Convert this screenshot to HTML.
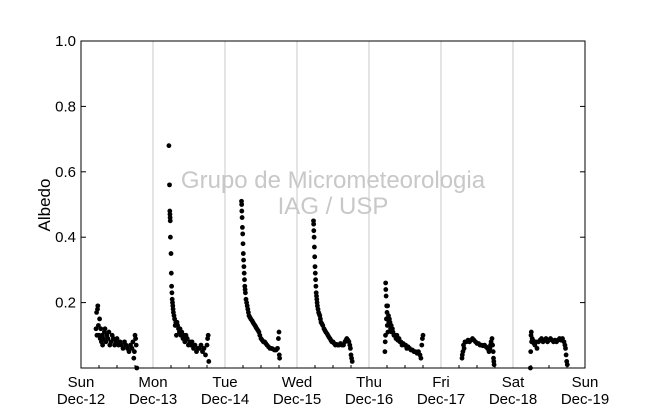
<!DOCTYPE html>
<html><head><meta charset="utf-8"><style>
body{margin:0;background:#fff}
text{font-family:"Liberation Sans","DejaVu Sans",sans-serif}
</style></head><body>
<svg width="650" height="409" xmlns="http://www.w3.org/2000/svg" id="c">
<rect width="650" height="409" fill="#fff"/>
<g id="grid"></g>
<text x="333" y="188" font-size="24" fill="#c8c8c8" text-anchor="middle">Grupo de Micrometeorologia</text>
<text x="333" y="214" font-size="24" fill="#c8c8c8" text-anchor="middle">IAG / USP</text>
<g id="pts"></g>
<rect x="81" y="41" width="504" height="327" fill="none" stroke="#000" stroke-width="1"/>
<g id="axes"></g>
<text transform="translate(50,205) rotate(-90)" font-size="17" text-anchor="middle">Albedo</text>
</svg>
<script>
const dayLabels=["Sun","Mon","Tue","Wed","Thu","Fri","Sat","Sun"];
const dateLabels=["Dec-12","Dec-13","Dec-14","Dec-15","Dec-16","Dec-17","Dec-18","Dec-19"];
const yTicks=[0.2,0.4,0.6,0.8,1.0];
const hours0=[5,5.2,5.3,5.5,5.6,5.8,6,6.2,6.4,6.6,6.8,7,7.2,7.5,7.8,8,8.3,8.6,9,9.3,9.6,10,10.4,10.8,11.2,11.6,12,12.5,13,13.5,14,14.5,15,15.5,16,16.5,17,17.3,17.6,17.8,18,18.2,18.4,18.6];
const vals0=[0.12,0.17,0.1,0.18,0.19,0.13,0.1,0.15,0.09,0.12,0.08,0.1,0.07,0.09,0.11,0.12,0.08,0.1,0.09,0.11,0.07,0.08,0.1,0.09,0.07,0.08,0.09,0.07,0.08,0.07,0.06,0.08,0.07,0.06,0.05,0.07,0.06,0.08,0.03,0.05,0.1,0.09,0.07,0.0];
const hours1=[5.3,5.5,5.6,5.65,5.7,5.75,5.8,6,6.1,6.2,6.3,6.4,6.5,6.6,6.7,6.8,7,7.2,7.4,7.6,7.8,8,8.2,8.5,8.8,9,9.3,9.6,10,10.3,10.6,11,11.4,11.8,12.2,12.6,13,13.5,14,14.5,15,15.5,16,16.5,17,17.5,18,18.2,18.4,18.6];
const vals1=[0.68,0.56,0.48,0.47,0.46,0.45,0.4,0.35,0.29,0.25,0.23,0.21,0.2,0.19,0.18,0.17,0.16,0.15,0.13,0.14,0.1,0.14,0.13,0.12,0.11,0.12,0.1,0.11,0.09,0.1,0.08,0.1,0.09,0.07,0.08,0.07,0.08,0.06,0.07,0.05,0.06,0.06,0.07,0.05,0.06,0.04,0.07,0.09,0.1,0.02];
const hours2=[5.5,5.55,5.6,5.7,5.8,5.9,6,6.1,6.2,6.3,6.4,6.5,6.6,6.7,6.8,7,7.2,7.4,7.6,7.8,8,8.3,8.6,9,9.3,9.6,10,10.3,10.6,11,11.3,11.6,12,12.4,12.8,13.2,13.6,14,14.5,15,15.5,16,16.5,17,17.5,17.8,18,18.1,18.2];
const vals2=[0.51,0.5,0.48,0.46,0.43,0.41,0.38,0.35,0.33,0.31,0.29,0.27,0.25,0.24,0.23,0.21,0.2,0.19,0.18,0.17,0.16,0.155,0.15,0.145,0.14,0.135,0.13,0.125,0.12,0.115,0.11,0.1,0.09,0.085,0.08,0.08,0.075,0.07,0.065,0.06,0.06,0.058,0.055,0.055,0.06,0.09,0.11,0.04,0.03];
const hours3=[5.5,5.55,5.6,5.7,5.8,5.9,6,6.1,6.2,6.3,6.4,6.5,6.6,6.7,6.8,7,7.2,7.4,7.6,7.8,8,8.3,8.6,9,9.3,9.6,10,10.3,10.6,11,11.3,11.6,12,12.4,12.8,13.2,13.6,14,14.5,15,15.5,16,16.3,16.6,17,17.3,17.6,17.8,18,18.2,18.4];
const vals3=[0.45,0.44,0.42,0.4,0.37,0.34,0.31,0.29,0.27,0.25,0.23,0.22,0.21,0.2,0.19,0.18,0.17,0.165,0.16,0.15,0.14,0.135,0.13,0.12,0.115,0.11,0.105,0.1,0.095,0.09,0.085,0.08,0.08,0.075,0.07,0.072,0.07,0.07,0.075,0.07,0.07,0.08,0.085,0.09,0.085,0.08,0.07,0.06,0.04,0.03,0.02];
const hours4=[5.3,5.4,5.5,5.55,5.6,5.7,5.8,5.9,6,6.1,6.2,6.3,6.5,6.6,6.8,7,7.2,7.4,7.6,7.8,8,8.3,8.6,9,9.3,9.6,10,10.3,10.6,11,11.4,11.8,12.2,12.6,13,13.5,14,14.5,15,15.5,16,16.5,17,17.3,17.6,17.8,18];
const vals4=[0.05,0.08,0.1,0.26,0.24,0.22,0.15,0.19,0.17,0.13,0.19,0.11,0.16,0.14,0.15,0.14,0.12,0.13,0.11,0.12,0.11,0.1,0.1,0.09,0.1,0.085,0.09,0.08,0.08,0.07,0.075,0.07,0.07,0.06,0.065,0.06,0.055,0.055,0.05,0.05,0.045,0.05,0.04,0.03,0.07,0.09,0.1];
const hours5=[7,7.1,7.3,7.5,7.7,8,8.5,9,9.5,10,10.5,11,11.5,12,12.5,13,13.5,14,14.5,15,15.5,16,16.3,16.5,16.7,17,17.2,17.4,17.5,17.6,17.7];
const vals5=[0.03,0.04,0.05,0.07,0.06,0.08,0.08,0.085,0.08,0.085,0.09,0.085,0.08,0.075,0.075,0.07,0.07,0.068,0.07,0.065,0.06,0.05,0.06,0.07,0.08,0.09,0.07,0.05,0.03,0.02,0.01];
const hours6=[5.8,5.9,6,6.1,6.2,6.4,6.6,6.8,7,7.3,7.6,8,8.5,9,9.5,10,10.5,11,11.5,12,12.5,13,13.5,14,14.5,15,15.5,16,16.5,17,17.3,17.5,17.7,17.9,18.1];
const vals6=[0.0,0.05,0.1,0.11,0.08,0.09,0.085,0.08,0.075,0.07,0.08,0.06,0.08,0.085,0.09,0.08,0.085,0.09,0.08,0.085,0.09,0.085,0.08,0.085,0.08,0.085,0.09,0.085,0.09,0.08,0.07,0.06,0.04,0.02,0.01];
const days=[[hours0,vals0],[hours1,vals1],[hours2,vals2],[hours3,vals3],[hours4,vals4],[hours5,vals5],[hours6,vals6]];
const X0=81,DAYW=72,Y0=368,YH=327;
function xs(day,h){return X0+day*DAYW+h*DAYW/24}
function ys(v){return Y0-v*YH}
const NS="http://www.w3.org/2000/svg";
function mk(tag,attrs,parent){const e=document.createElementNS(NS,tag);for(const k in attrs)e.setAttribute(k,attrs[k]);parent.appendChild(e);return e}
const grid=document.getElementById('grid'),axes=document.getElementById('axes'),pts=document.getElementById('pts');
for(let d=1;d<7;d++){const l=mk('line',{x1:xs(d,0),x2:xs(d,0),y1:41,y2:368,stroke:'#c8c8c8','stroke-width':1},grid);

}
for(let d=0;d<8;d++){
 const t1=mk('text',{x:xs(d,0),y:387,'font-size':15,'text-anchor':'middle'},axes);t1.textContent=dayLabels[d];
 
 
 const t2=mk('text',{x:xs(d,0),y:404,'font-size':15,'text-anchor':'middle'},axes);t2.textContent=dateLabels[d];
 
 
 if(d<7)for(let q=1;q<4;q++){const m=mk('line',{x1:xs(d,q*6),x2:xs(d,q*6),y1:368,y2:365,stroke:'#000'},axes);
 
 }
}
for(const v of yTicks){
 const t=mk('text',{x:76,y:ys(v)+5,'font-size':15,'text-anchor':'end'},axes);t.textContent=v.toFixed(1);
 
 
 const a=mk('line',{x1:81,x2:86,y1:ys(v),y2:ys(v),stroke:'#000'},axes);
 
 
 const b=mk('line',{x1:580,x2:585,y1:ys(v),y2:ys(v),stroke:'#000'},axes);
 
 
}
days.forEach(([hs,vs],d)=>{hs.forEach((h,i)=>{
 const c=mk('circle',{cx:xs(d,h),cy:ys(vs[i]),r:2.4,fill:'#000'},pts);
 
 
})});
</script>
</body></html>
